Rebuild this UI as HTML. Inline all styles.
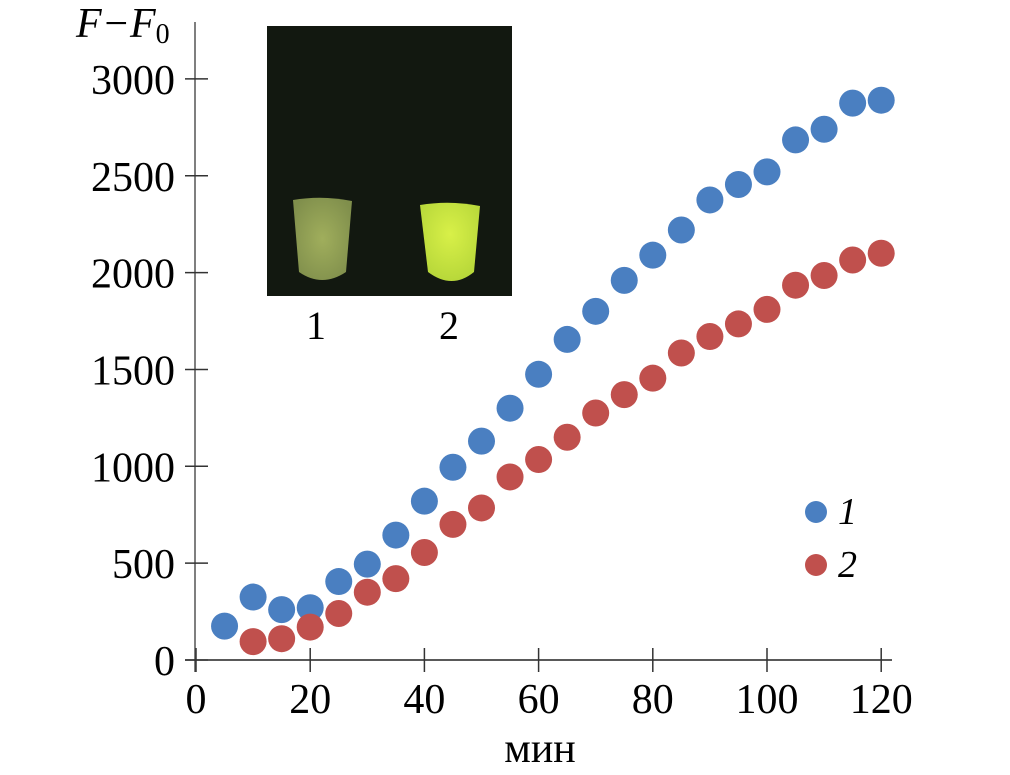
<!DOCTYPE html>
<html><head><meta charset="utf-8"><style>
html,body{margin:0;padding:0;background:#fff;}
svg{display:block;font-family:"Liberation Serif",serif;}
</style></head><body>
<svg id="chart" width="1010" height="775" viewBox="0 0 1010 775">
<g id="inset">
<defs>
<radialGradient id="g1" cx="50%" cy="50%" r="60%"><stop offset="0" stop-color="#a0ae5c"/><stop offset="1" stop-color="#808f4c"/></radialGradient>
<radialGradient id="g2" cx="50%" cy="40%" r="60%"><stop offset="0" stop-color="#d8f048"/><stop offset="1" stop-color="#b8d83a"/></radialGradient>
</defs>
<rect x="267" y="26" width="245" height="270" fill="#121810"/>
<path d="M293,200 Q322,195 352,201 L346,272 Q322,288 299,272 Z" fill="url(#g1)"/>
<path d="M420,205 Q450,200 480,206 L474,272 Q452,290 428,272 Z" fill="url(#g2)"/>
<text x="316" y="339" font-size="40" text-anchor="middle">1</text>
<text x="449" y="339" font-size="40" text-anchor="middle">2</text>
</g>
<g id="axes"></g>
<g id="marks"></g>
<text x="76" y="37" font-size="42" font-style="italic">F−F<tspan font-style="normal" font-size="28" dy="6">0</tspan></text>
<text x="540" y="762" font-size="42" text-anchor="middle">мин</text>
<g>
<circle cx="816" cy="512" r="11" fill="#4a7fc1"/>
<text x="838" y="524" font-size="38" font-style="italic">1</text>
<circle cx="816" cy="565" r="11" fill="#c0504d"/>
<text x="838" y="577" font-size="38" font-style="italic">2</text>
</g>
</svg>
<script>
const xTicks=[0,20,40,60,80,100,120];
const yTicks=[0,500,1000,1500,2000,2500,3000];
const times1=[5,10,15,20,25,30,35,40,45,50,55,60,65,70,75,80,85,90,95,100,105,110,115,120];
const series1=[175,325,260,270,405,495,645,820,995,1130,1300,1475,1655,1800,1960,2090,2220,2375,2455,2520,2685,2740,2875,2890];
const times2=[10,15,20,25,30,35,40,45,50,55,60,65,70,75,80,85,90,95,100,105,110,115,120];
const series2=[95,110,170,240,350,420,555,700,785,945,1035,1150,1275,1370,1455,1585,1670,1735,1810,1935,1985,2065,2100];
const NS='http://www.w3.org/2000/svg';
const sx=v=>196+v*5.71;
const sy=v=>660-v*0.1937;
function mk(tag,attrs,parent,txt){const e=document.createElementNS(NS,tag);for(const k in attrs)e.setAttribute(k,attrs[k]);if(txt!==undefined)e.textContent=txt;parent.appendChild(e);return e;}
const ax=document.getElementById('axes');
let l=mk('line',{x1:195,y1:22,x2:195,y2:672,stroke:'#555','stroke-width':1.5},ax);


l=mk('line',{x1:185,y1:660,x2:892,y2:660,stroke:'#222','stroke-width':1.5},ax);


yTicks.forEach(v=>{
 const t=mk('line',{x1:185,y1:sy(v),x2:208,y2:sy(v),stroke:'#333','stroke-width':1.5},ax);
 
 
 const tx=mk('text',{x:175,y:sy(v)+15,'font-size':42,'text-anchor':'end'},ax,String(v));
 
 
});
xTicks.forEach(v=>{
 const t=mk('line',{x1:sx(v),y1:648,x2:sx(v),y2:672,stroke:'#333','stroke-width':1.5},ax);
 
 
 const tx=mk('text',{x:sx(v),y:713,'font-size':42,'text-anchor':'middle'},ax,String(v));
 
 
});
const mg=document.getElementById('marks');
times1.forEach((t,i)=>{
 const c=mk('circle',{cx:sx(t),cy:sy(series1[i]),r:13.5,fill:'#4a7fc1'},mg);
 
 
});
times2.forEach((t,i)=>{
 const c=mk('circle',{cx:sx(t),cy:sy(series2[i]),r:13.5,fill:'#c0504d'},mg);
 
 
});
</script>
</body></html>
